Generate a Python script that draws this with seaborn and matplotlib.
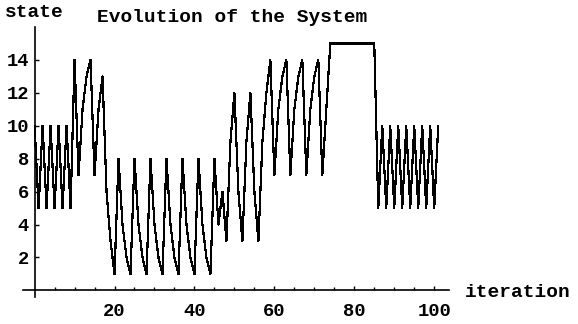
import numpy as np
import pandas as pd
import matplotlib
matplotlib.use("Agg")
import matplotlib.pyplot as plt
from matplotlib.ticker import FixedLocator
import seaborn as sns

# ---- data ----
states = [10, 5, 10, 5, 10, 5, 10, 5, 10, 5,
          14, 7, 11, 13, 14, 7, 11, 13, 6, 3,
          1, 8, 4, 2, 1, 8, 4, 2, 1, 8,
          4, 2, 1, 8, 4, 2, 1, 8, 4, 2,
          1, 8, 4, 2, 1, 8, 4, 6, 3, 9,
          12, 6, 3, 9, 12, 6, 3, 9, 12, 14,
          7, 11, 13, 14, 7, 11, 13, 14, 7, 11,
          13, 14, 7, 11, 15, 15, 15, 15, 15, 15,
          15, 15, 15, 15, 15, 15, 5, 10, 5, 10,
          5, 10, 5, 10, 5, 10, 5, 10, 5, 10,
          5, 10]
iterations = list(range(len(states)))

x_major_ticks = [20, 40, 60, 80, 100]
x_minor_ticks = [5, 10, 15, 25, 30, 35, 45, 50, 55, 65, 70, 75, 85, 90, 95]
y_ticks = [2, 4, 6, 8, 10, 12, 14]
title_text = "Evolution of the System"
x_label = "iteration"
y_label = "state"

# ---- style ----
sns.set_theme(style="white")
plt.rcParams['font.family'] = ['Liberation Mono', 'DejaVu Sans Mono']
FS = 13.5
W, H = 578, 324

fig = plt.figure(figsize=(W / 100, H / 100), dpi=100)
ax = fig.add_axes([23 / W, 27 / H, 426 / W, 270 / H])

df = pd.DataFrame({"iteration": iterations, "state": states})
sns.lineplot(data=df, x="iteration", y="state", color="black", linewidth=0.85,
             errorbar=None, antialiased=False, ax=ax)

ax.set_xlim(-2.9, 103.7)
ax.set_ylim(-0.4, 16.0)
ax.set_xlabel("")
ax.set_ylabel("")

for s in ["top", "right"]:
    ax.spines[s].set_visible(False)
for s in ["left", "bottom"]:
    ax.spines[s].set_position(("data", 0))
    ax.spines[s].set_color("black")
    ax.spines[s].set_linewidth(1.2)

ax.xaxis.set_major_locator(FixedLocator(x_major_ticks))
ax.xaxis.set_minor_locator(FixedLocator(x_minor_ticks))
ax.yaxis.set_major_locator(FixedLocator(y_ticks))
ax.set_xticklabels([str(t) for t in x_major_ticks])
ax.set_yticklabels([str(t) for t in y_ticks])

ax.tick_params(axis="x", which="major", direction="in", length=3, width=1,
               color="black", labelsize=FS, pad=9, bottom=True)
ax.tick_params(axis="x", which="minor", direction="in", length=2.2, width=1,
               color="black", bottom=True)
ax.tick_params(axis="y", which="major", direction="in", length=3, width=1,
               color="black", labelsize=FS, pad=4, left=True)
for lab in ax.get_xticklabels() + ax.get_yticklabels():
    lab.set_fontweight("bold")
    lab.set_color("black")

fig.text(232 / W, (H - 21.7) / H, title_text, ha="center", va="baseline",
         fontsize=14, fontweight="bold", color="black")
fig.text(5 / W, (H - 16.7) / H, y_label, ha="left", va="baseline",
         fontsize=14, fontweight="bold", color="black")
fig.text(465 / W, (H - 296.7) / H, x_label, ha="left", va="baseline",
         fontsize=14, fontweight="bold", color="black")

fig.savefig("out.png", dpi=100, facecolor="white")
